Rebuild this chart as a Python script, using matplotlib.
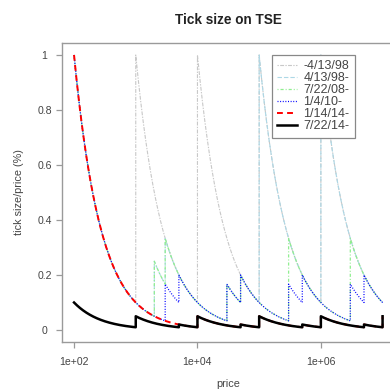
import numpy as np
import matplotlib
matplotlib.use("Agg")
import matplotlib.pyplot as plt

plt.rcParams["font.family"] = ["Liberation Sans", "DejaVu Sans"]

# tick tables: price bounds where a new tick starts, tick size (yen) of each band
labels = ["-4/13/98", "4/13/98-", "7/22/08-", "1/4/10-", "1/14/14-", "7/22/14-"]

bounds_9804 = [1e3, 1e4, 1e5, 1e6, 2e7]
ticks_9804 = [1, 10, 100, 1000, 10000, 100000]

bounds_9804b = [2000, 3000, 3e4, 5e4, 1e5, 1e6, 2e7]
ticks_9804b = [1, 5, 10, 50, 100, 1000, 10000, 100000]

bounds_0807 = [2000, 3000, 3e4, 5e4, 3e5, 3e6, 2e7]
ticks_0807 = [1, 5, 10, 50, 100, 1000, 10000, 100000]

bounds_1001 = [3000, 5000, 3e4, 5e4, 3e5, 5e5, 3e6, 5e6, 3e7]
ticks_1001 = [1, 5, 10, 50, 100, 500, 1000, 5000, 10000, 50000]

bounds_1401 = [1e4, 5e4, 1e5, 5e5, 1e6, 5e6, 1e7]
ticks_1401 = [1, 5, 10, 50, 100, 500, 1000, 5000]

bounds_1407 = [1e3, 5e3, 1e4, 5e4, 1e5, 5e5, 1e6, 5e6, 1e7]
ticks_1407 = [0.1, 0.5, 1, 5, 10, 50, 100, 500, 1000, 5000]

tables = [(bounds_9804, ticks_9804), (bounds_9804b, ticks_9804b),
          (bounds_0807, ticks_0807), (bounds_1001, ticks_1001),
          (bounds_1401, ticks_1401), (bounds_1407, ticks_1407)]

colors = ["#c8c8c8", "#add8e6", "#90ee90", "#0000ff", "#ff0000", "#000000"]
styles = [(0, (1.2, 1.2, 3.5, 1.2)), (0, (4, 1.8)), (0, (0.8, 1.6, 2.5, 1.6)),
          (0, (0.8, 1.3)), (0, (3, 2.2)), "-"]
widths = [0.8, 0.8, 0.9, 0.9, 1.4, 1.8]

p_min, p_max = 100, 1e7

fig = plt.figure(figsize=(3.9, 3.91), dpi=100)
ax = fig.add_axes([0.1582, 0.1261, 0.8544, 0.7632])

for (b, t), c, ls, lw, lab in zip(tables, colors, styles, widths, labels):
    b = np.array(b)
    edge = b[(b > p_min) & (b <= p_max)]
    price = np.unique(np.concatenate([np.geomspace(p_min, p_max, 3000),
                                      edge, edge * (1 - 1e-9)]))
    tick = np.array(t)[np.searchsorted(b, price, side="right")]
    ax.plot(price, tick / price * 100, color=c, ls=ls, lw=lw, label=lab)

ax.set_xscale("log")
ax.set_xlim(10 ** 1.8, 10 ** 7.2)
ax.set_ylim(-0.0425, 1.0425)
ax.xaxis.set_major_locator(matplotlib.ticker.FixedLocator([1e2, 1e4, 1e6]))
ax.xaxis.set_major_formatter(matplotlib.ticker.FixedFormatter(["1e+02", "1e+04", "1e+06"]))
ax.xaxis.set_minor_locator(matplotlib.ticker.NullLocator())
ax.set_yticks([0, 0.2, 0.4, 0.6, 0.8, 1.0])
ax.set_yticklabels(["0", "0.2", "0.4", "0.6", "0.8", "1"])

for s in ax.spines.values():
    s.set_color("#9a9a9a")
    s.set_linewidth(1.0)
ax.tick_params(colors="#9a9a9a", labelcolor="#444444", labelsize=7.6,
               length=4.3, width=0.9)
ax.tick_params(axis="x", pad=6.5)
ax.tick_params(axis="y", pad=8)
for lbl in ax.get_yticklabels():
    lbl.set_horizontalalignment("center")

ax.set_xlabel("price", fontsize=7.8, color="#444444")
ax.xaxis.set_label_coords(0.5, -0.125)
ax.set_ylabel("tick size/price (%)", fontsize=7.8, color="#444444")
ax.yaxis.set_label_coords(-0.112, 0.5)
ax.text(0.5, 1.078, "Tick size on TSE", transform=ax.transAxes, ha="center",
        va="center", fontsize=9.8, fontweight="bold", color="#222222")

leg = ax.legend(loc="upper left", bbox_to_anchor=(0.63, 0.962), fontsize=9,
                frameon=True, fancybox=False, framealpha=1, edgecolor="#888888",
                handlelength=1.6, handletextpad=0.5, labelspacing=0.0,
                borderpad=0.45, borderaxespad=0)
leg.get_frame().set_linewidth(0.9)
for txt in leg.get_texts():
    txt.set_color("#444444")

fig.savefig("out.png", dpi=100, facecolor="white")
